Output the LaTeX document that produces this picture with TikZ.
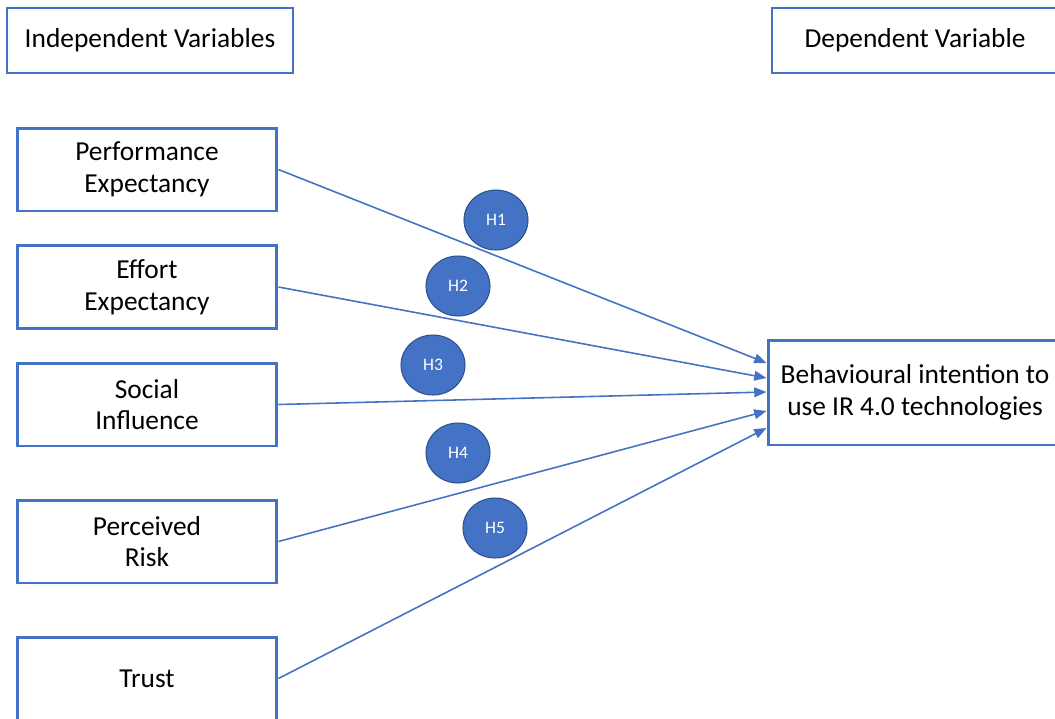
\documentclass[tikz,border=0pt]{standalone}
\usepackage{fontspec}
\setmainfont{Carlito}
\usetikzlibrary{arrows.meta,shapes.geometric}
\definecolor{boxblue}{HTML}{4472C4}
\definecolor{hypline}{HTML}{2F528F}
\begin{document}
\begin{tikzpicture}[x=0.02cm,y=-0.02cm,
    header/.style={draw=boxblue,line width=0.9pt,minimum width=5.72cm,minimum height=1.3cm,
      font=\fontsize{15.6}{18}\selectfont},
    varbox/.style={draw=boxblue,line width=1.7pt,minimum width=5.2cm,minimum height=1.66cm,
      align=center,font=\fontsize{15.6}{18}\selectfont},
    hyp/.style={ellipse,draw=hypline,line width=0.6pt,fill=boxblue,minimum width=1.28cm,
      minimum height=1.2cm,inner sep=0pt,text=white,font=\fontsize{10}{11}\selectfont},
    link/.style={draw=boxblue,line width=0.9pt,-{Triangle[length=7pt,width=5.5pt]}}]

	\useasboundingbox (0,0) rectangle (1055,718);
	\clip (0,0) rectangle (1055,718);

	% headers
	\node[header] (indep) at (150,40.5) {Independent Variables};
	\node[header] (dep) at (915,40.5) {Dependent Variable};

	% independent variables
	\node[varbox] (pe) at (147,169.5) {Performance\\Expectancy};
	\node[varbox] (ee) at (147,287) {Effort\\Expectancy};
	\node[varbox] (si) at (147,404.5) {Social\\Influence};
	\node[varbox] (pr) at (147,541.5) {Perceived\\Risk};
	\node[varbox] (tr) at (147,678.5) {Trust};

	% dependent variable
	\node[varbox,minimum width=5.88cm,minimum height=2.1cm] (bi) at (915,392.5)
	  {Behavioural intention to\\use IR 4.0 technologies};

	% paths
	\draw[link] (pe.east) -- (bi.west |- 0,363);
	\draw[link] (ee.east) -- (bi.west |- 0,378);
	\draw[link] (si.east) -- (bi.west |- 0,392);
	\draw[link] (pr.east) -- (bi.west |- 0,411);
	\draw[link] (tr.east) -- (bi.west |- 0,428);

	% hypotheses
	\node[hyp] (h1) at (496,220) {H1};
	\node[hyp] (h2) at (458,286) {H2};
	\node[hyp] (h3) at (433,365) {H3};
	\node[hyp] (h4) at (458,453) {H4};
	\node[hyp] (h5) at (495,528) {H5};
\end{tikzpicture}
\end{document}
